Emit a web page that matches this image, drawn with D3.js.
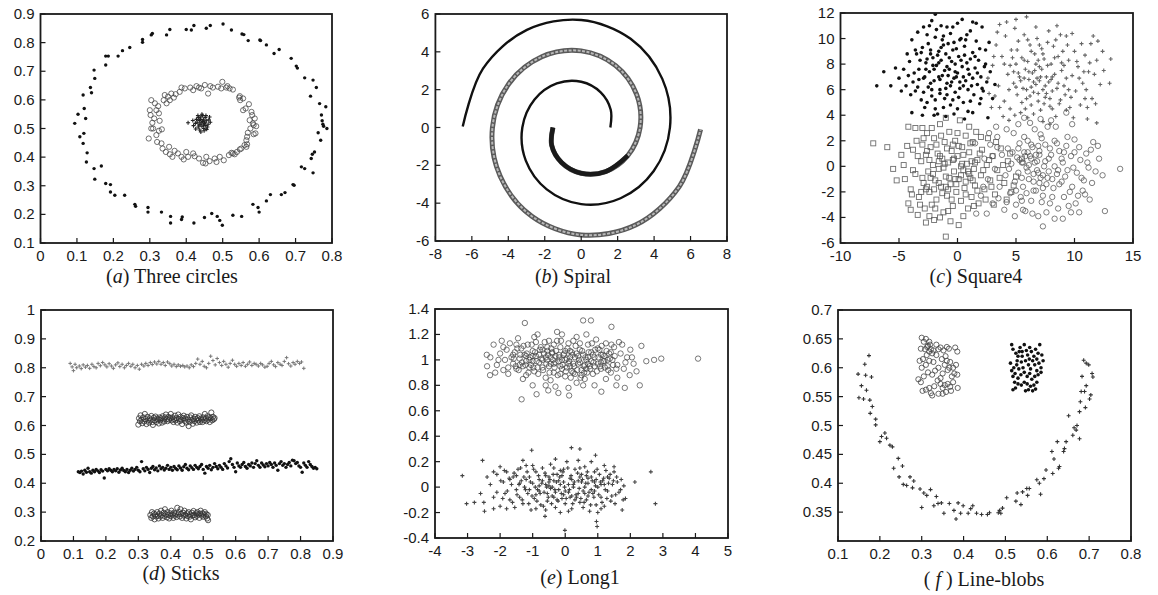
<!DOCTYPE html>
<html><head><meta charset="utf-8">
<script src="https://cdn.jsdelivr.net/npm/d3@7"></script>
<style>
html,body{margin:0;padding:0;background:#fff;}
svg{display:block;}
</style></head>
<body>
<svg id="chart" width="1158" height="595"></svg>
<script>
// ---------------- DATA (flat x,y lists) ----------------
// (a) Three circles
const aOuter = [0.094,0.518,0.103,0.550,0.108,0.471,0.117,0.617,0.117,0.448,0.119,0.483,0.120,0.570,0.124,0.535,0.128,0.415,0.126,0.383,0.137,0.643,0.140,0.625,0.147,0.704,0.149,0.675,0.147,0.360,0.149,0.323,0.167,0.369,0.179,0.308,0.192,0.304,0.192,0.278,0.179,0.722,0.179,0.753,0.186,0.753,0.213,0.753,0.225,0.772,0.245,0.783,0.204,0.267,0.231,0.267,0.259,0.235,0.261,0.228,0.280,0.801,0.280,0.811,0.295,0.224,0.295,0.208,0.304,0.827,0.307,0.832,0.332,0.208,0.346,0.827,0.355,0.846,0.357,0.193,0.357,0.170,0.387,0.182,0.389,0.191,0.400,0.846,0.414,0.844,0.421,0.860,0.421,0.170,0.450,0.189,0.455,0.850,0.466,0.860,0.470,0.203,0.485,0.193,0.492,0.179,0.501,0.865,0.499,0.162,0.524,0.844,0.528,0.197,0.553,0.830,0.558,0.828,0.552,0.193,0.570,0.807,0.583,0.235,0.597,0.224,0.600,0.208,0.602,0.809,0.604,0.807,0.620,0.792,0.620,0.247,0.631,0.269,0.641,0.762,0.655,0.776,0.661,0.269,0.671,0.276,0.688,0.745,0.693,0.304,0.696,0.302,0.702,0.718,0.705,0.711,0.725,0.677,0.716,0.366,0.725,0.360,0.748,0.345,0.748,0.669,0.757,0.643,0.741,0.613,0.743,0.395,0.746,0.410,0.752,0.418,0.762,0.485,0.766,0.587,0.771,0.547,0.773,0.527,0.775,0.515,0.777,0.508,0.783,0.576,0.786,0.500,0.769,0.459];
const aMiddle = [0.297,0.465,0.300,0.564,0.302,0.547,0.304,0.599,0.307,0.520,0.309,0.500,0.312,0.535,0.314,0.588,0.318,0.477,0.320,0.453,0.323,0.578,0.325,0.553,0.327,0.527,0.332,0.448,0.335,0.430,0.338,0.599,0.341,0.617,0.344,0.418,0.346,0.588,0.350,0.611,0.355,0.410,0.359,0.622,0.362,0.401,0.366,0.608,0.371,0.620,0.377,0.413,0.382,0.628,0.387,0.401,0.393,0.392,0.396,0.640,0.400,0.418,0.405,0.401,0.411,0.643,0.419,0.634,0.423,0.403,0.428,0.648,0.435,0.395,0.441,0.640,0.446,0.380,0.451,0.652,0.455,0.401,0.460,0.622,0.464,0.386,0.466,0.648,0.473,0.643,0.478,0.395,0.483,0.383,0.487,0.646,0.492,0.401,0.496,0.640,0.499,0.663,0.503,0.389,0.510,0.643,0.513,0.648,0.517,0.407,0.519,0.640,0.524,0.415,0.528,0.636,0.533,0.410,0.539,0.418,0.545,0.608,0.547,0.613,0.548,0.599,0.551,0.430,0.556,0.564,0.556,0.605,0.560,0.442,0.563,0.570,0.565,0.459,0.567,0.471,0.569,0.485,0.572,0.585,0.574,0.529,0.576,0.500,0.579,0.558,0.581,0.547,0.583,0.518,0.585,0.512,0.588,0.535,0.590,0.483,0.592,0.508,0.567,0.445,0.547,0.427,0.325,0.492,0.333,0.497,0.304,0.500,0.353,0.436,0.368,0.422,0.419,0.413,0.453,0.378,0.528,0.413,0.565,0.436,0.585,0.480,0.435,0.643,0.387,0.643,0.355,0.599,0.318,0.564];
const aInner = [0.441,0.520,0.445,0.525,0.438,0.515,0.450,0.518,0.447,0.530,0.436,0.528,0.452,0.510,0.443,0.508,0.430,0.522,0.455,0.527,0.440,0.540,0.448,0.500,0.433,0.505,0.460,0.515,0.425,0.518,0.437,0.495,0.452,0.538,0.445,0.545,0.428,0.532,0.462,0.530,0.420,0.510,0.456,0.497,0.440,0.488,0.466,0.522,0.432,0.545,0.405,0.520,0.447,0.512,0.439,0.532,0.451,0.522,0.435,0.512,0.458,0.505,0.443,0.550,0.426,0.498,0.449,0.492,0.464,0.540,0.418,0.528,0.454,0.545,0.434,0.538];
// (b) Spiral
const bArm1 = [1.60,0.00,1.62,0.94,1.07,1.86,0.00,2.42,-1.34,2.33,-2.56,1.48,-3.23,0.00,-3.04,-1.75,-1.89,-3.27,0.00,-4.05,2.16,-3.74,3.98,-2.30,4.87,0.00,4.45,2.57,2.71,4.69,0.00,5.68,-2.98,5.16,-5.39,3.11,-6.50,0.05];
const bArm2 = [-1.55,0.00,-1.62,-0.94,-1.07,-1.86,0.00,-2.42,1.34,-2.33,2.56,-1.48,3.23,0.00,3.04,1.75,1.89,3.27,0.00,4.05,-2.16,3.74,-3.98,2.30,-4.87,0.00,-4.45,-2.57,-2.71,-4.69,0.00,-5.68,2.98,-5.16,5.39,-3.11,6.55,-0.10];
// (c) Square4
const cDots = [-6.9,6.3,-6.3,7.4,-5.7,6.3,-5.3,7.7,-4.1,8.2,-3.9,9.9,-3.9,4.2,-1.9,11.9,-2.2,11.4,1.3,11.3,2.1,10.9,2.7,9.7,2.6,3.8,-4.2,7.1,-4.0,5.6,-3.8,6.6,-3.5,8.8,-3.3,7.6,-3.1,5.2,-3.0,9.3,-2.9,6.9,-2.8,4.6,-2.7,8.1,-2.6,10.3,-2.5,6.2,-2.4,7.4,-2.3,9.1,-2.2,5.5,-2.1,8.5,-2.0,6.7,-1.9,10.1,-1.8,7.9,-1.7,4.1,-1.6,9.0,-1.5,6.0,-1.4,8.3,-1.3,7.1,-1.2,10.2,-1.1,5.3,-1.0,8.8,-0.9,6.5,-0.8,9.6,-0.7,7.6,-0.6,4.8,-0.5,8.2,-0.4,10.9,-0.3,6.9,-0.2,5.8,-0.1,9.2,0.0,7.3,0.1,8.6,0.2,6.1,0.3,10.0,0.4,7.8,0.5,5.0,0.6,9.4,0.7,6.7,0.8,8.1,0.9,4.3,1.0,7.2,1.1,10.6,1.2,6.3,1.3,8.9,1.4,5.6,1.5,7.7,1.6,9.8,1.7,6.4,1.8,8.3,1.9,4.9,2.0,7.0,2.2,5.9,2.4,8.0,2.5,6.6,2.8,7.4,3.0,5.3,3.2,6.4,-3.6,5.9,-2.6,5.0,-1.9,4.5,-1.0,3.9,-0.3,4.1,0.6,3.7,-4.4,6.3,-3.4,10.5,-1.4,11.0,0.0,11.2,-0.9,7.8,-1.6,7.0,-2.3,8.8,0.2,9.9,-0.6,6.3,0.9,6.0,-1.2,9.5,-2.0,7.6,-0.2,8.0,0.5,7.0,-1.5,5.7,-2.8,7.0,-0.4,9.1,1.1,8.4,-3.2,8.3,-4.6,7.6,
  -3.7,7.3,-3.4,6.2,-3.1,8.9,-2.9,5.8,-2.7,7.6,-2.5,9.6,-2.3,6.5,-2.1,7.9,-1.9,5.2,-1.7,8.7,-1.5,6.8,-1.3,9.9,-1.1,7.5,-0.9,5.6,-0.7,8.5,-0.5,6.6,-0.3,9.7,-0.1,7.0,0.1,5.4,0.3,8.3,0.5,6.3,0.7,9.9,0.9,7.6,1.1,5.1,1.3,6.9,1.5,8.6,1.7,7.3,1.9,9.2,2.1,6.1,2.3,7.8,-1.8,10.7,-0.6,10.4,0.4,11.5,-2.9,10.9,-3.6,9.1,-4.3,8.8,-4.8,5.9,-5.0,6.9,-2.0,4.0,-1.2,4.6,0.0,4.5,1.3,4.2,2.0,5.3,-0.4,5.2,-1.0,6.1,-2.2,6.0,-1.6,8.1,-0.2,7.4,0.6,8.7,-0.8,7.1,-1.4,9.3,0.8,10.3,-2.6,8.4,-3.3,6.8,-0.9,10.9,1.6,11.2,2.4,9.1,-2.4,11.0,-3.0,4.0,0.2,6.6];
const cPlus = [3.6,11.1,5.0,11.5,5.9,11.7,6.7,10.9,13.1,8.4,12.0,9.8,11.9,3.4,11.1,4.6,9.3,10.2,3.9,3.9,3.0,7.9,3.3,9.5,3.5,6.3,3.8,8.6,4.0,5.1,4.1,10.2,4.3,7.2,4.5,4.5,4.6,9.1,4.8,6.5,5.0,8.0,5.1,5.6,5.2,9.8,5.3,7.0,5.4,4.2,5.5,8.5,5.6,6.1,5.7,10.3,5.8,7.6,5.9,5.3,6.0,8.2,6.1,6.8,6.2,9.5,6.3,4.8,6.4,7.3,6.5,5.8,6.6,8.8,6.7,6.4,6.8,10.0,6.9,5.1,7.0,7.8,7.1,4.4,7.2,9.2,7.3,6.0,7.4,8.4,7.5,5.4,7.6,7.0,7.7,9.7,7.8,6.6,7.9,4.7,8.0,8.0,8.1,5.9,8.2,9.4,8.3,7.2,8.5,6.1,8.6,8.6,8.7,4.9,8.9,7.5,9.0,9.0,9.2,5.6,9.3,6.9,9.5,8.3,9.6,4.6,9.8,7.1,10.0,9.0,10.1,5.9,10.3,7.8,10.5,4.8,10.7,6.5,10.9,8.7,11.0,6.0,11.2,7.4,11.4,9.6,11.5,5.3,11.7,7.2,11.9,8.3,12.2,6.4,3.2,5.5,4.4,3.6,6.0,3.8,7.3,3.5,8.4,3.9,9.9,3.8,2.6,6.9,2.9,4.6,5.7,6.9,6.3,6.2,7.0,6.7,7.6,5.7,6.6,7.5,5.2,7.3,8.0,6.8,6.9,8.3,4.7,8.5,9.1,7.9,10.4,6.9,7.8,10.6,8.8,10.3,4.9,10.8,
  4.0,8.0,4.4,6.0,4.8,7.4,5.1,9.1,5.4,6.7,5.7,8.3,5.9,6.0,6.1,7.4,6.3,9.0,6.5,6.6,6.7,8.0,6.9,5.7,7.1,7.0,7.3,8.8,7.5,6.3,7.7,7.9,7.9,5.3,8.1,7.0,8.3,8.5,8.6,6.5,8.8,5.2,9.1,6.3,9.4,9.5,9.7,5.4,10.2,8.2,10.8,7.4,11.3,8.1,11.8,4.9,12.5,7.5,13.0,6.5,3.4,10.5,4.2,11.3,8.5,11.0,9.8,10.4,10.6,9.6,11.6,10.2,3.6,4.6,4.9,4.0,6.5,4.1,8.1,4.5,9.3,4.4,10.9,5.3,5.5,5.0,6.2,5.5,7.4,4.9,5.0,6.2,6.0,9.9,7.0,9.5,8.4,9.9,9.5,6.0,4.5,7.9,3.1,8.6,2.7,5.7,12.4,9.0,11.1,3.7,7.9,3.3,5.8,4.5,6.8,6.9,7.2,7.6,8.9,8.1];
const cSquares = [-7.2,1.8,-6.0,1.5,-5.2,-1.1,-4.6,0.1,-4.2,-2.9,-3.4,-3.8,-2.7,-4.4,-1.0,-5.5,0.1,-4.6,-4.2,3.1,-4.0,-1.8,-3.8,1.3,-3.6,-0.6,-3.5,2.0,-3.3,-2.4,-3.1,0.4,-3.0,1.7,-2.9,-1.3,-2.8,-3.3,-2.7,0.9,-2.6,2.6,-2.5,-0.4,-2.4,-2.0,-2.3,1.5,-2.2,-3.0,-2.1,0.1,-2.0,2.2,-1.9,-1.1,-1.8,-2.6,-1.7,1.0,-1.6,-0.2,-1.5,3.3,-1.4,-1.6,-1.3,0.6,-1.2,-3.6,-1.1,1.9,-1.0,-0.8,-0.9,-2.3,-0.8,0.3,-0.7,2.7,-0.6,-1.4,-0.5,1.2,-0.4,-3.1,-0.3,-0.4,-0.2,2.0,-0.1,-2.0,0.0,0.8,0.1,-1.0,0.2,3.6,0.3,-2.7,0.4,1.5,0.5,-0.3,0.6,-1.7,0.7,2.4,0.8,0.2,0.9,-3.3,1.0,1.1,1.1,-0.9,1.2,-2.4,1.3,1.9,1.4,-0.2,1.5,-1.5,1.6,2.7,1.7,0.5,1.8,-2.9,2.0,-0.7,2.1,1.3,2.3,-1.8,2.5,0.1,2.6,2.2,2.8,-1.1,3.0,0.8,3.2,-2.2,3.4,-0.3,3.7,1.4,4.0,-1.3,4.3,0.4,4.6,-2.0,5.0,-0.8,5.5,0.6,-4.5,-1.0,-3.9,-2.2,-3.2,-3.0,-2.4,-3.9,-1.5,-4.0,-0.8,-3.5,-4.8,0.9,-5.5,-0.2,-3.0,3.0,-1.0,3.8,-2.0,-1.8,-1.0,-1.6,0.3,0.0,-1.5,0.8,-0.4,0.5,-2.6,-1.6,0.7,-1.2,1.2,0.4,
  -3.4,0.8,-3.0,-0.9,-2.7,-1.8,-2.4,0.5,-2.1,-0.6,-1.8,1.7,-1.6,-1.3,-1.3,-2.1,-1.1,0.2,-0.9,1.4,-0.7,-0.9,-0.5,-2.6,-0.3,0.6,-0.1,-1.4,0.1,1.6,0.3,-0.7,0.5,0.9,0.7,-2.2,0.9,-0.4,1.1,1.8,1.3,-1.1,1.5,0.3,1.7,-1.9,1.9,1.0,2.2,-0.3,2.4,-2.6,2.7,0.5,2.9,-1.6,3.3,1.9,3.6,-0.9,3.9,0.1,4.2,-2.6,4.5,1.0,4.8,-1.5,-3.8,-0.3,-4.3,1.6,-4.0,-3.4,-2.0,-4.2,-3.6,3.0,-2.2,3.0,0.0,2.6,1.0,3.1,-1.4,2.4,-2.9,2.2,-0.6,-4.3,0.5,-3.9,1.4,-3.1,-1.9,-3.3,-3.1,-2.0,-0.2,-1.0,-1.2,-0.1,-2.3,-0.9,0.4,0.2,-0.8,-1.8,1.0,-0.6,-1.6,0.4,-0.4,1.7,-2.6,1.2,2.0,2.3,3.1,-3.0];
const cCircles = [13.9,-0.2,12.6,-3.5,10.4,-3.6,7.3,-4.7,10.0,2.1,11.6,1.9,10.8,-1.1,9.3,4.2,5.7,3.8,1.6,-3.7,1.5,1.8,2.0,-2.3,2.3,0.6,2.6,-1.0,2.8,1.7,3.0,-2.9,3.2,-0.2,3.4,2.3,3.6,-1.6,3.8,0.9,4.0,-3.4,4.1,-0.7,4.3,1.4,4.5,-2.1,4.6,0.2,4.8,2.6,4.9,-1.2,5.0,-3.0,5.1,0.7,5.2,-0.5,5.3,1.8,5.4,-2.4,5.5,0.3,5.6,-1.6,5.7,1.1,5.8,-3.5,5.9,-0.1,6.0,2.0,6.1,-1.0,6.2,0.8,6.3,-2.7,6.4,1.5,6.5,-0.6,6.6,2.9,6.7,-1.9,6.8,0.4,6.9,-3.9,7.0,1.2,7.1,-0.9,7.2,2.2,7.3,-2.3,7.4,0.0,7.5,1.7,7.6,-1.4,7.7,3.1,7.8,-0.4,7.9,-2.9,8.0,0.9,8.2,-1.7,8.3,2.0,8.5,-0.6,8.6,-3.3,8.7,1.2,8.9,-1.2,9.0,0.3,9.1,-2.4,9.3,1.6,9.4,-0.3,9.5,-3.1,9.7,0.8,9.8,-1.6,10.0,1.1,10.2,-0.5,10.3,-2.3,10.5,0.5,10.7,-1.9,11.0,1.0,11.2,-0.1,11.5,-1.3,12.0,1.6,12.4,-0.7,6.3,0.6,6.0,1.1,5.6,0.3,7.0,0.9,7.3,-0.7,6.8,-0.3,8.1,-1.0,6.5,-1.9,5.5,-2.7,8.4,3.1,7.1,3.7,3.3,3.1,9.0,-4.1,11.3,-2.6,4.9,-3.9,2.5,-3.7,
  4.4,-0.2,4.7,1.1,5.0,-1.9,5.3,0.5,5.5,-0.9,5.7,2.3,5.9,-2.1,6.1,0.1,6.3,1.7,6.5,-1.2,6.7,0.9,6.9,-0.5,7.1,2.5,7.3,-1.7,7.5,0.4,7.7,-0.9,7.9,1.4,8.1,-2.4,8.3,0.0,8.5,1.8,8.7,-1.4,8.9,0.6,9.2,-0.8,9.4,2.3,9.6,-2.0,9.9,-0.1,10.1,-2.9,10.4,1.5,10.6,-0.9,10.9,-2.2,11.1,0.3,11.4,1.3,11.8,-0.4,12.1,0.6,3.0,0.8,3.5,-2.5,2.7,2.6,4.2,2.9,5.2,3.3,6.2,3.4,8.0,3.6,9.8,3.3,5.6,-3.4,6.4,-3.7,7.6,-3.6,8.3,-4.1,9.7,-3.6,4.2,-2.8,3.4,1.5,2.2,-1.6,6.0,-0.4,6.6,0.3,7.0,-1.3,5.8,0.8,7.8,0.6,6.9,1.6,5.2,1.4,8.6,-0.3,7.2,-2.8,9.1,1.1];
// (d) Sticks
const dTop = [0.090,0.815,0.096,0.803,0.100,0.790,0.105,0.812,0.110,0.800,0.118,0.806,0.124,0.797,0.130,0.810,0.137,0.802,0.143,0.808,0.150,0.798,0.157,0.812,0.163,0.804,0.170,0.800,0.176,0.815,0.183,0.807,0.190,0.818,0.197,0.810,0.203,0.803,0.210,0.814,0.217,0.806,0.223,0.798,0.230,0.810,0.237,0.817,0.243,0.804,0.250,0.812,0.257,0.800,0.263,0.808,0.270,0.815,0.277,0.805,0.283,0.812,0.290,0.800,0.297,0.808,0.303,0.795,0.310,0.812,0.317,0.806,0.323,0.815,0.330,0.808,0.337,0.818,0.343,0.811,0.350,0.820,0.357,0.813,0.363,0.822,0.370,0.812,0.377,0.818,0.383,0.808,0.390,0.820,0.397,0.814,0.403,0.806,0.410,0.812,0.417,0.804,0.423,0.810,0.430,0.805,0.437,0.808,0.443,0.803,0.450,0.806,0.457,0.800,0.463,0.810,0.470,0.804,0.477,0.815,0.483,0.830,0.490,0.812,0.497,0.822,0.503,0.805,0.510,0.800,0.517,0.815,0.523,0.840,0.530,0.825,0.537,0.810,0.543,0.832,0.550,0.818,0.557,0.808,0.563,0.822,0.570,0.812,0.577,0.802,0.583,0.815,0.590,0.826,0.597,0.812,0.603,0.805,0.610,0.815,0.617,0.808,0.623,0.818,0.630,0.805,0.637,0.812,0.643,0.820,0.650,0.808,0.657,0.815,0.663,0.812,0.670,0.806,0.677,0.815,0.683,0.810,0.690,0.802,0.697,0.805,0.703,0.815,0.710,0.822,0.717,0.810,0.723,0.804,0.730,0.818,0.737,0.812,0.743,0.808,0.750,0.822,0.757,0.835,0.763,0.814,0.770,0.806,0.777,0.818,0.783,0.812,0.790,0.822,0.797,0.815,0.803,0.820,0.810,0.798];
const dUpper = [0.300,0.603,0.302,0.625,0.305,0.615,0.307,0.635,0.310,0.620,0.312,0.608,0.315,0.628,0.318,0.614,0.320,0.640,0.322,0.622,0.325,0.605,0.328,0.630,0.330,0.617,0.333,0.610,0.335,0.625,0.338,0.620,0.340,0.633,0.343,0.612,0.345,0.602,0.348,0.627,0.350,0.618,0.353,0.631,0.355,0.612,0.358,0.624,0.360,0.620,0.363,0.607,0.365,0.628,0.368,0.618,0.370,0.625,0.373,0.610,0.375,0.632,0.378,0.621,0.380,0.614,0.383,0.628,0.385,0.638,0.388,0.622,0.390,0.615,0.393,0.630,0.395,0.620,0.398,0.626,0.400,0.640,0.403,0.618,0.405,0.628,0.408,0.612,0.410,0.622,0.413,0.634,0.415,0.618,0.418,0.626,0.420,0.610,0.423,0.638,0.425,0.622,0.428,0.615,0.430,0.630,0.433,0.620,0.435,0.605,0.438,0.626,0.440,0.634,0.443,0.616,0.445,0.624,0.448,0.610,0.450,0.630,0.453,0.620,0.455,0.598,0.458,0.612,0.460,0.628,0.463,0.635,0.465,0.618,0.468,0.606,0.470,0.624,0.473,0.615,0.475,0.630,0.478,0.622,0.480,0.610,0.483,0.626,0.485,0.618,0.488,0.632,0.490,0.612,0.493,0.624,0.495,0.620,0.498,0.612,0.500,0.628,0.503,0.618,0.505,0.640,0.508,0.625,0.510,0.615,0.513,0.632,0.515,0.620,0.518,0.628,0.520,0.612,0.523,0.625,0.525,0.645,0.528,0.618,0.530,0.630,0.533,0.622,0.535,0.626];
const dMiddle = [0.115,0.440,0.120,0.437,0.125,0.442,0.130,0.432,0.135,0.445,0.140,0.438,0.145,0.452,0.150,0.440,0.155,0.435,0.160,0.445,0.165,0.440,0.170,0.448,0.175,0.443,0.180,0.437,0.185,0.447,0.190,0.442,0.195,0.418,0.200,0.448,0.205,0.443,0.210,0.450,0.215,0.445,0.220,0.440,0.225,0.448,0.230,0.443,0.235,0.450,0.240,0.438,0.245,0.446,0.250,0.452,0.255,0.444,0.260,0.440,0.265,0.448,0.270,0.437,0.275,0.445,0.280,0.452,0.285,0.442,0.290,0.448,0.295,0.455,0.300,0.445,0.305,0.440,0.310,0.475,0.315,0.450,0.320,0.443,0.325,0.455,0.330,0.448,0.335,0.437,0.340,0.452,0.345,0.458,0.350,0.447,0.355,0.453,0.360,0.443,0.365,0.460,0.370,0.450,0.375,0.455,0.380,0.446,0.385,0.452,0.390,0.462,0.395,0.448,0.400,0.455,0.405,0.445,0.410,0.458,0.415,0.451,0.420,0.447,0.425,0.460,0.430,0.453,0.435,0.445,0.440,0.457,0.445,0.465,0.450,0.452,0.455,0.447,0.460,0.460,0.465,0.454,0.470,0.448,0.475,0.462,0.480,0.455,0.485,0.450,0.490,0.458,0.495,0.465,0.500,0.448,0.505,0.435,0.510,0.458,0.515,0.452,0.520,0.462,0.525,0.447,0.530,0.455,0.535,0.468,0.540,0.458,0.545,0.450,0.550,0.462,0.555,0.455,0.560,0.448,0.565,0.468,0.570,0.460,0.575,0.453,0.580,0.475,0.585,0.485,0.590,0.465,0.595,0.455,0.600,0.440,0.605,0.470,0.610,0.460,0.615,0.455,0.620,0.465,0.625,0.472,0.630,0.458,0.635,0.452,0.640,0.465,0.645,0.460,0.650,0.470,0.655,0.455,0.660,0.468,0.665,0.478,0.670,0.462,0.675,0.455,0.680,0.470,0.685,0.463,0.690,0.457,0.695,0.468,0.700,0.460,0.705,0.472,0.710,0.465,0.715,0.455,0.720,0.470,0.725,0.462,0.730,0.445,0.735,0.468,0.740,0.475,0.745,0.462,0.750,0.468,0.755,0.455,0.760,0.465,0.765,0.472,0.770,0.460,0.775,0.480,0.780,0.478,0.785,0.468,0.790,0.472,0.795,0.460,0.800,0.455,0.805,0.438,0.810,0.470,0.815,0.462,0.820,0.455,0.825,0.475,0.830,0.465,0.835,0.458,0.840,0.452,0.845,0.455,0.850,0.450];
const dLower = [0.337,0.290,0.340,0.280,0.342,0.300,0.345,0.285,0.348,0.295,0.350,0.275,0.352,0.292,0.355,0.285,0.358,0.300,0.360,0.288,0.362,0.278,0.365,0.295,0.368,0.285,0.370,0.305,0.372,0.290,0.375,0.280,0.378,0.298,0.380,0.287,0.382,0.310,0.385,0.292,0.388,0.282,0.390,0.300,0.392,0.290,0.395,0.278,0.398,0.296,0.400,0.286,0.402,0.305,0.405,0.292,0.408,0.280,0.410,0.298,0.412,0.288,0.415,0.295,0.418,0.283,0.420,0.315,0.422,0.292,0.425,0.300,0.428,0.285,0.430,0.310,0.432,0.294,0.435,0.280,0.438,0.298,0.440,0.288,0.442,0.305,0.445,0.290,0.448,0.278,0.450,0.296,0.452,0.286,0.455,0.300,0.458,0.284,0.460,0.292,0.462,0.275,0.465,0.298,0.468,0.288,0.470,0.304,0.472,0.290,0.475,0.282,0.478,0.296,0.480,0.287,0.482,0.300,0.485,0.292,0.488,0.280,0.490,0.295,0.492,0.305,0.495,0.288,0.498,0.296,0.500,0.284,0.503,0.292,0.505,0.300,0.508,0.285,0.510,0.293,0.512,0.278,0.514,0.290,0.515,0.272];
// (e) Long1
const eTop = [-2.41,1.04,-2.31,0.88,-1.34,0.69,-1.24,1.29,0.55,1.31,0.79,1.31,1.42,1.26,2.34,1.11,2.29,0.80,2.49,0.99,2.73,1.00,2.95,1.01,4.08,1.01,1.83,0.78,1.57,0.80,1.11,0.75,0.12,0.72,-0.21,0.74,-0.52,0.76,-0.88,0.73,1.98,0.88,2.19,0.91,-2.2,1.12,-2.1,0.96,-2.0,1.05,-1.95,1.15,-1.9,0.92,-1.85,1.00,-1.8,1.08,-1.75,0.94,-1.7,1.13,-1.65,1.02,-1.6,0.97,-1.55,1.06,-1.5,0.93,-1.45,1.17,-1.4,1.01,-1.35,1.09,-1.3,0.95,-1.25,1.04,-1.2,0.88,-1.15,1.12,-1.1,1.00,-1.05,0.96,-1.0,1.07,-0.95,0.91,-0.9,1.03,-0.85,1.20,-0.8,0.98,-0.75,1.10,-0.7,0.94,-0.65,1.05,-0.6,0.86,-0.55,1.00,-0.5,1.15,-0.45,0.97,-0.4,1.06,-0.35,0.90,-0.3,1.03,-0.25,1.22,-0.2,0.99,-0.15,1.10,-0.1,0.93,-0.05,1.04,0.0,0.87,0.05,1.01,0.1,1.13,0.15,0.95,0.2,1.06,0.25,0.90,0.3,1.02,0.35,1.18,0.4,0.97,0.45,1.08,0.5,0.92,0.55,1.04,0.6,0.85,0.65,1.00,0.7,1.12,0.75,0.95,0.8,1.06,0.85,0.89,0.9,1.02,0.95,1.16,1.0,0.97,1.05,1.08,1.1,0.93,1.15,1.04,1.2,0.99,1.25,1.13,1.3,0.95,1.35,1.05,1.4,0.90,1.45,1.00,1.5,1.10,1.6,0.96,1.7,1.05,1.8,0.93,1.9,1.02,2.0,1.08,2.1,0.97,-1.2,1.03,-1.0,0.99,-0.8,1.04,-0.6,1.02,-0.4,1.05,-0.3,0.98,-0.2,1.04,-0.1,1.00,0.0,1.07,0.1,0.97,0.2,0.91,0.3,0.89,0.4,1.03,0.5,0.88,0.6,0.96,0.7,1.02,0.9,0.95,1.1,1.04,1.2,1.03,-0.5,0.95,-0.7,1.08,-1.1,0.94,0.15,1.02,-0.35,1.12,0.45,1.13,0.8,0.99,-0.9,1.14,-1.4,0.96,1.3,1.00,0.05,0.94,-0.15,0.95,-0.55,1.07,0.25,0.97,0.65,0.93,1.0,1.09,-1.6,1.04,-2.3,1.02,-2.4,0.95,1.6,0.86,-0.45,0.84,0.35,0.82,-1.0,0.80,-0.3,0.79,0.9,0.80,
  -1.58,1.01,-1.52,0.95,-1.47,1.09,-1.43,0.92,-1.38,1.04,-1.33,0.98,-1.28,1.11,-1.22,0.96,-1.18,1.05,-1.13,0.90,-1.08,1.02,-1.03,1.12,-0.98,0.94,-0.93,1.06,-0.88,0.99,-0.83,0.89,-0.78,1.08,-0.73,1.01,-0.68,0.92,-0.63,1.14,-0.58,0.97,-0.53,1.04,-0.48,0.90,-0.43,1.09,-0.38,1.00,-0.33,0.94,-0.28,1.07,-0.23,0.88,-0.18,1.02,-0.13,1.15,-0.08,0.96,-0.03,1.05,0.02,0.91,0.07,1.09,0.12,0.99,0.17,0.86,0.22,1.04,0.27,0.95,0.32,1.11,0.37,0.92,0.42,1.00,0.47,0.86,0.52,1.07,0.57,0.95,0.62,1.02,0.67,0.90,0.72,1.06,0.77,0.93,0.82,1.13,0.87,0.98,0.92,1.08,0.97,0.91,1.02,1.02,1.07,0.95,1.12,1.11,1.17,0.99,1.22,0.94,1.27,1.07,1.32,0.92,1.37,1.01,1.42,1.12,1.47,0.96,1.52,1.03,1.57,0.93,-1.9,1.10,-2.05,1.00,-1.75,0.89,-2.15,0.90,1.75,1.12,1.85,0.98,2.05,1.02,1.65,1.14,-0.95,1.18,-0.1,1.20,0.65,1.20,-0.6,0.80,0.1,0.78,0.55,0.80,-1.3,0.85,1.25,0.85,-0.25,1.15,0.25,1.15,-0.7,1.00,0.0,1.00,0.7,0.97,-1.0,1.03,0.45,0.98,-0.45,1.02,1.1,0.98,-1.5,1.12,-0.15,0.89,0.35,1.05,-0.85,0.94,0.85,1.04,-0.35,0.97,0.15,1.07,-1.2,0.99,0.58,0.90,1.4,1.06,-0.55,1.10];
const eBottom = [-3.16,0.09,-3.03,-0.13,-2.79,-0.12,-2.54,0.21,-2.48,-0.19,-1.03,0.29,0.19,0.31,0.45,0.30,0.93,0.25,0.96,-0.27,0.98,-0.31,-0.01,-0.34,2.63,0.12,2.77,-0.13,2.14,0.04,-0.62,-0.23,-2.0,0.16,-2.3,0.02,-2.2,-0.08,-2.1,0.10,-2.0,-0.15,-1.9,0.04,-1.85,-0.05,-1.8,0.12,-1.7,-0.10,-1.65,0.02,-1.6,0.08,-1.55,-0.16,-1.5,-0.02,-1.45,0.14,-1.4,-0.08,-1.35,0.05,-1.3,-0.13,-1.25,0.00,-1.2,0.17,-1.15,-0.05,-1.1,0.08,-1.05,-0.18,-1.0,0.03,-0.95,-0.09,-0.9,0.12,-0.85,-0.02,-0.8,0.06,-0.75,-0.14,-0.7,0.15,-0.65,-0.04,-0.6,0.09,-0.55,-0.11,-0.5,0.01,-0.45,0.18,-0.4,-0.07,-0.35,0.05,-0.3,-0.16,-0.25,0.10,-0.2,-0.02,-0.15,0.13,-0.1,-0.09,-0.05,0.04,0.0,-0.13,0.05,0.20,0.1,-0.04,0.15,0.07,0.2,-0.17,0.25,0.02,0.3,0.14,0.35,-0.08,0.4,0.05,0.45,-0.12,0.5,0.10,0.55,-0.03,0.6,0.16,0.65,-0.10,0.7,0.03,0.75,-0.19,0.8,0.08,0.85,-0.05,0.9,0.12,0.95,-0.14,1.0,0.00,1.05,0.10,1.1,-0.08,1.15,0.05,1.2,-0.15,1.25,0.13,1.3,-0.03,1.35,0.07,1.4,-0.11,1.45,0.02,1.5,0.12,1.55,-0.06,1.6,0.04,1.7,-0.02,1.75,-0.18,1.8,0.01,1.85,-0.09,-0.8,-0.03,-0.6,0.02,-0.4,0.00,-0.2,0.05,0.0,-0.03,0.2,0.06,0.4,-0.05,0.6,0.00,0.8,-0.02,-0.3,-0.04,0.1,0.02,0.3,-0.10,-0.5,0.08,-0.1,0.09,0.5,0.04,0.7,-0.07,-0.9,-0.06,-1.2,0.06,0.9,0.04,1.1,0.02,-0.7,0.05,0.15,-0.08,-0.25,-0.10,0.45,0.15,-1.4,0.03,1.3,0.08,-1.7,0.06,-0.05,0.14,0.65,0.09,-0.55,-0.05,-2.6,-0.05,-2.2,-0.17,1.0,-0.20,0.55,-0.16,-0.15,-0.20,1.2,0.17,-1.0,0.17,-0.35,0.15,0.95,0.06,
  -1.98,0.05,-1.92,-0.09,-1.87,0.13,-1.78,-0.03,-1.72,0.07,-1.62,-0.12,-1.57,0.11,-1.48,-0.06,-1.42,0.02,-1.37,0.15,-1.32,-0.10,-1.27,0.08,-1.22,-0.02,-1.17,0.12,-1.12,-0.13,-1.07,0.04,-1.02,-0.07,-0.97,0.14,-0.92,0.00,-0.87,-0.11,-0.82,0.09,-0.77,-0.05,-0.72,0.03,-0.67,-0.15,-0.62,0.11,-0.57,0.00,-0.52,-0.08,-0.47,0.06,-0.42,-0.13,-0.37,0.10,-0.32,-0.02,-0.27,0.04,-0.22,-0.11,-0.17,0.08,-0.12,-0.05,-0.07,0.12,-0.02,0.00,0.03,-0.09,0.08,0.15,0.13,-0.02,0.18,0.09,0.23,-0.13,0.28,0.04,0.33,-0.06,0.38,0.11,0.43,-0.01,0.48,-0.09,0.53,0.06,0.58,-0.12,0.63,0.03,0.68,0.12,0.73,-0.04,0.78,-0.14,0.83,0.05,0.88,-0.08,0.93,0.01,0.98,0.14,1.03,-0.06,1.08,0.04,1.13,-0.12,1.18,0.07,1.23,-0.02,1.28,-0.09,1.33,0.03,1.38,0.10,1.43,-0.07,1.48,0.05,1.53,-0.13,1.58,0.08,1.65,-0.04,1.72,0.06,1.78,-0.10,-2.4,0.08,-2.5,-0.12,-2.2,0.12,-2.1,-0.04,-0.6,-0.18,0.1,-0.19,0.4,0.21,-0.3,0.22,0.8,0.20,-1.3,0.21,1.1,-0.17,-0.9,-0.17,1.5,0.16,-1.8,-0.17,-0.45,-0.01,0.25,0.00,-0.15,0.02,0.6,-0.05,-0.8,0.01,0.9,-0.03,-1.1,-0.02,0.2,-0.07,-0.5,0.04,1.2,0.02,-1.5,0.09,0.7,0.07,-0.05,-0.06,-0.35,-0.08,0.45,0.08];
// (f) Line-blobs
const fCurve = [0.148,0.589,0.150,0.548,0.156,0.569,0.161,0.546,0.164,0.606,0.166,0.587,0.168,0.561,0.174,0.621,0.176,0.544,0.177,0.521,0.180,0.584,0.182,0.533,0.190,0.511,0.190,0.501,0.200,0.472,0.204,0.481,0.212,0.487,0.216,0.478,0.224,0.466,0.230,0.463,0.233,0.426,0.244,0.443,0.246,0.411,0.254,0.430,0.256,0.398,0.264,0.396,0.272,0.411,0.278,0.392,0.281,0.404,0.296,0.390,0.300,0.358,0.305,0.383,0.312,0.379,0.321,0.389,0.329,0.361,0.335,0.377,0.339,0.365,0.347,0.366,0.353,0.348,0.366,0.365,0.377,0.353,0.382,0.338,0.387,0.366,0.393,0.348,0.399,0.361,0.411,0.348,0.417,0.356,0.422,0.361,0.431,0.348,0.443,0.346,0.457,0.346,0.462,0.349,0.483,0.349,0.486,0.353,0.489,0.348,0.493,0.357,0.503,0.375,0.525,0.369,0.528,0.383,0.537,0.363,0.541,0.385,0.551,0.391,0.553,0.379,0.557,0.391,0.575,0.406,0.581,0.400,0.584,0.381,0.592,0.408,0.597,0.423,0.613,0.417,0.611,0.455,0.616,0.442,0.624,0.472,0.627,0.426,0.629,0.429,0.639,0.455,0.641,0.460,0.645,0.472,0.651,0.517,0.661,0.483,0.664,0.496,0.669,0.492,0.671,0.500,0.677,0.477,0.677,0.524,0.679,0.541,0.681,0.559,0.683,0.585,0.691,0.531,0.693,0.569,0.687,0.613,0.693,0.608,0.699,0.605,0.704,0.553,0.707,0.590,0.709,0.584,0.701,0.546,0.689,0.559];
const fLeft = [0.300,0.652,0.305,0.645,0.310,0.650,0.308,0.632,0.315,0.638,0.318,0.628,0.320,0.640,0.322,0.632,0.325,0.625,0.312,0.622,0.298,0.633,0.303,0.615,0.295,0.612,0.300,0.600,0.310,0.605,0.318,0.612,0.328,0.610,0.335,0.622,0.340,0.632,0.345,0.635,0.352,0.630,0.360,0.636,0.365,0.633,0.380,0.635,0.385,0.628,0.348,0.615,0.355,0.605,0.360,0.612,0.368,0.610,0.375,0.600,0.382,0.605,0.378,0.590,0.372,0.585,0.385,0.588,0.362,0.596,0.350,0.590,0.340,0.600,0.332,0.595,0.325,0.588,0.315,0.592,0.305,0.585,0.298,0.575,0.292,0.580,0.302,0.560,0.310,0.562,0.318,0.565,0.322,0.556,0.325,0.552,0.330,0.568,0.338,0.578,0.345,0.572,0.350,0.565,0.355,0.570,0.362,0.572,0.370,0.560,0.368,0.567,0.375,0.575,0.345,0.582,0.335,0.640,0.328,0.630,0.318,0.645,0.313,0.636,0.357,0.620,0.366,0.600,0.350,0.555,0.358,0.558,0.340,0.555,0.386,0.565];
const fRight = [0.515,0.640,0.518,0.632,0.525,0.625,0.530,0.620,0.535,0.635,0.540,0.628,0.545,0.640,0.550,0.630,0.553,0.622,0.558,0.635,0.562,0.628,0.568,0.620,0.572,0.632,0.578,0.625,0.582,0.640,0.587,0.622,0.590,0.612,0.585,0.600,0.580,0.608,0.575,0.595,0.570,0.605,0.565,0.612,0.560,0.598,0.555,0.605,0.548,0.612,0.542,0.600,0.538,0.610,0.532,0.598,0.527,0.605,0.520,0.600,0.515,0.595,0.512,0.608,0.518,0.585,0.523,0.590,0.530,0.582,0.537,0.588,0.545,0.592,0.552,0.585,0.558,0.590,0.563,0.580,0.570,0.585,0.578,0.588,0.585,0.592,0.575,0.575,0.568,0.570,0.560,0.568,0.552,0.572,0.545,0.575,0.538,0.570,0.530,0.572,0.524,0.565,0.518,0.562,0.522,0.575,0.548,0.560,0.555,0.562,0.565,0.560,0.572,0.563,0.540,0.620,0.528,0.612,0.557,0.615,0.533,0.628,0.575,0.615];

// tick values
const aXTicks = [0,0.1,0.2,0.3,0.4,0.5,0.6,0.7,0.8];
const aYTicks = [0.1,0.2,0.3,0.4,0.5,0.6,0.7,0.8,0.9];
const bXTicks = [-8,-6,-4,-2,0,2,4,6,8];
const bYTicks = [-6,-4,-2,0,2,4,6];
const cXTicks = [-10,-5,0,5,10,15];
const cYTicks = [-6,-4,-2,0,2,4,6,8,10,12];
const dXTicks = [0,0.1,0.2,0.3,0.4,0.5,0.6,0.7,0.8,0.9];
const dYTicks = [0.2,0.3,0.4,0.5,0.6,0.7,0.8,0.9,1];
const eXTicks = [-4,-3,-2,-1,0,1,2,3,4,5];
const eYTicks = [-0.4,-0.2,0,0.2,0.4,0.6,0.8,1,1.2,1.4];
const fXTicks = [0.1,0.2,0.3,0.4,0.5,0.6,0.7,0.8];
const fYTicks = [0.35,0.4,0.45,0.5,0.55,0.6,0.65,0.7];

const captionLetters = ["a","b","c","d","e","f"];
const captionNames = ["Three circles","Spiral","Square4","Sticks","Long1","Line-blobs"];

// ---------------- DRAWING ----------------
const pairs = arr => { const o=[]; for(let i=0;i<arr.length;i+=2) o.push([arr[i],arr[i+1]]); return o; };
const svg = d3.select("#chart");
const INK = "#1a1a1a";

const panels = [
  {box:[40.5,332,14,243], xd:[0,0.8], yd:[0.1,0.9], xt:aXTicks, yt:aYTicks, cap:[172,283]},
  {box:[435.4,727,14,241], xd:[-8,8], yd:[-6,6], xt:bXTicks, yt:bYTicks, cap:[573,283]},
  {box:[840.5,1133,13,243], xd:[-10,15], yd:[-6,12], xt:cXTicks, yt:cYTicks, cap:[976,283]},
  {box:[41,333,310,541], xd:[0,0.9], yd:[0.2,1], xt:dXTicks, yt:dYTicks, cap:[181,580]},
  {box:[435,728,309,538], xd:[-4,5], yd:[-0.4,1.4], xt:eXTicks, yt:eYTicks, cap:[580,584]},
  {box:[838,1131,310,541], xd:[0.1,0.8], yd:[0.3,0.7], xt:fXTicks, yt:fYTicks, cap:[984,586]}
];

function dots(g,data,sx,sy,r,fill){
  g.selectAll(null).data(pairs(data)).join("circle")
    .attr("cx",d=>sx(d[0])).attr("cy",d=>sy(d[1])).attr("r",r).attr("fill",fill);
}
function rings(g,data,sx,sy,r,stroke,op){
  g.selectAll(null).data(pairs(data)).join("circle")
    .attr("cx",d=>sx(d[0])).attr("cy",d=>sy(d[1])).attr("r",r)
    .attr("fill","none").attr("stroke",stroke).attr("stroke-width",0.9).attr("stroke-opacity",op);
}
function squares(g,data,sx,sy,s,stroke){
  g.selectAll(null).data(pairs(data)).join("rect")
    .attr("x",d=>sx(d[0])-s/2).attr("y",d=>sy(d[1])-s/2).attr("width",s).attr("height",s)
    .attr("fill","none").attr("stroke",stroke).attr("stroke-width",0.9).attr("stroke-opacity",0.85);
}
function pluses(g,data,sx,sy,s,stroke,w){
  g.selectAll(null).data(pairs(data)).join("path")
    .attr("d",d=>{const x=sx(d[0]),y=sy(d[1]);return `M${x-s},${y}H${x+s}M${x},${y-s}V${y+s}`;})
    .attr("stroke",stroke).attr("stroke-width",w).attr("fill","none");
}

panels.forEach((p,i)=>{
  const [x0,x1,y0,y1] = p.box;
  const sx = d3.scaleLinear().domain(p.xd).range([x0,x1]);
  const sy = d3.scaleLinear().domain(p.yd).range([y1,y0]);
  const g = svg.append("g");
  const clipId = "clip"+i;
  svg.append("clipPath").attr("id",clipId).append("rect")
    .attr("x",x0).attr("y",y0).attr("width",x1-x0).attr("height",y1-y0);
  const m = g.append("g").attr("clip-path",`url(#${clipId})`);

  if(i===0){
    rings(m,aMiddle,sx,sy,2.6,"#444",0.85);
    pluses(m,aInner,sx,sy,2,"#222",1.1);
    dots(m,aOuter,sx,sy,1.7,"#111");
  } else if(i===1){
    const line = d3.line().x(d=>sx(d[0])).y(d=>sy(d[1])).curve(d3.curveCatmullRom.alpha(0.5));
    const arm2 = pairs(bArm2);
    m.append("path").attr("d",line(arm2)).attr("fill","none").attr("stroke","#5a5a5a").attr("stroke-width",5);
    m.append("path").attr("d",line(arm2)).attr("fill","none").attr("stroke","#b8b8b8").attr("stroke-width",2)
      .attr("stroke-dasharray","3,1.5");
    m.append("path").attr("d",line(arm2.slice(0,6))).attr("fill","none").attr("stroke","#1a1a1a").attr("stroke-width",4.5);
    m.append("path").attr("d",line(pairs(bArm1))).attr("fill","none").attr("stroke","#111").attr("stroke-width",2.4);
  } else if(i===2){
    squares(m,cSquares,sx,sy,5,"#555");
    rings(m,cCircles,sx,sy,2.7,"#555",0.85);
    pluses(m,cPlus,sx,sy,2,"#666",1.1);
    dots(m,cDots,sx,sy,1.8,"#111");
  } else if(i===3){
    pluses(m,dTop,sx,sy,1.8,"#777",1);
    rings(m,dUpper,sx,sy,2.6,"#333",0.9);
    dots(m,dMiddle,sx,sy,1.7,"#111");
    rings(m,dLower,sx,sy,2.6,"#333",0.9);
  } else if(i===4){
    rings(m,eTop,sx,sy,2.7,"#444",0.8);
    pluses(m,eBottom,sx,sy,2,"#444",1.1);
  } else {
    pluses(m,fCurve,sx,sy,2,"#333",1.1);
    rings(m,fLeft,sx,sy,2.6,"#444",0.9);
    dots(m,fRight,sx,sy,1.8,"#111");
  }

  // frame
  g.append("rect").attr("x",x0).attr("y",y0).attr("width",x1-x0).attr("height",y1-y0)
    .attr("fill","none").attr("stroke",INK).attr("stroke-width",1.8);

  // x ticks (inward)
  g.selectAll(null).data(p.xt).join("line")
    .attr("x1",d=>sx(d)).attr("x2",d=>sx(d)).attr("y1",y1).attr("y2",y1-5)
    .attr("stroke",INK).attr("stroke-width",1.2);
  g.selectAll(null).data(p.xt).join("text")
    .attr("x",d=>sx(d)).attr("y",y1+18).attr("text-anchor","middle")
    .attr("font-family","Liberation Sans, Arial, sans-serif").attr("font-size",15).attr("fill",INK)
    .text(d=>String(d));
  // y ticks (inward)
  g.selectAll(null).data(p.yt).join("line")
    .attr("x1",x0).attr("x2",x0+5).attr("y1",d=>sy(d)).attr("y2",d=>sy(d))
    .attr("stroke",INK).attr("stroke-width",1.2);
  g.selectAll(null).data(p.yt).join("text")
    .attr("x",x0-6).attr("y",d=>sy(d)+5).attr("text-anchor","end")
    .attr("font-family","Liberation Sans, Arial, sans-serif").attr("font-size",15).attr("fill",INK)
    .text(d=>String(d));

  // caption
  const t = g.append("text").attr("x",p.cap[0]).attr("y",p.cap[1]).attr("text-anchor","middle")
    .attr("font-family","Liberation Serif, Times New Roman, serif").attr("font-size",20).attr("fill",INK);
  t.append("tspan").text(i===5 ? "( " : "(");
  t.append("tspan").attr("font-style","italic").text(captionLetters[i]);
  t.append("tspan").text((i===5 ? " ) " : ") ") + captionNames[i]);
});
</script>
</body></html>
